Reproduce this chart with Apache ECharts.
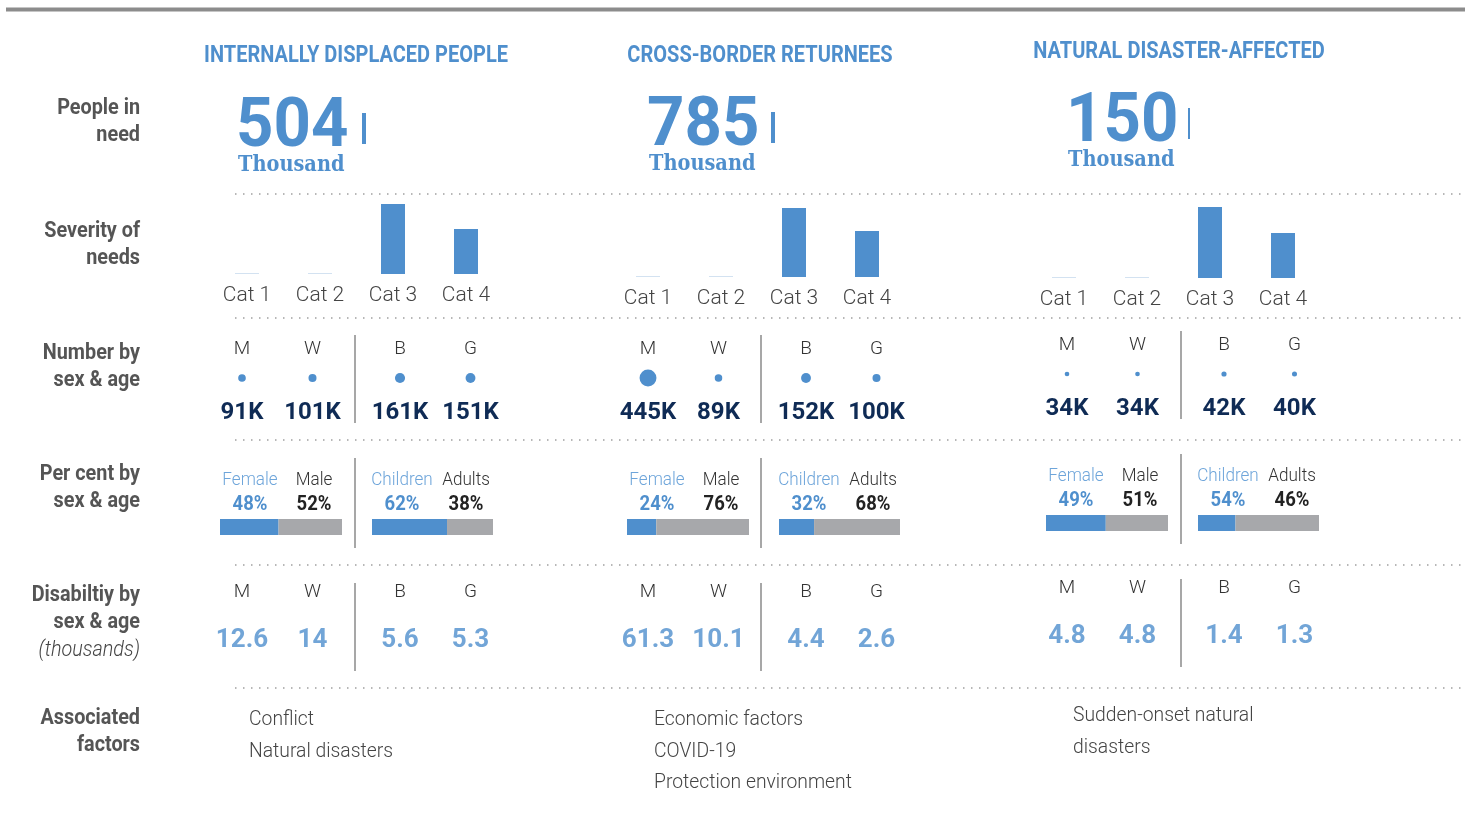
<!DOCTYPE html>
<html>
<head>
<meta charset="utf-8">
<title>People in need by population group</title>
<script src="https://cdn.jsdelivr.net/npm/echarts@6/dist/echarts.min.js"></script>
<style>
  html, body { margin: 0; padding: 0; background: #fff; }
  #chart { width: 1465px; height: 814px; }
</style>
</head>
<body>
<div id="chart"></div>
<script>
// ---- data ----
const groups = ['INTERNALLY DISPLACED PEOPLE', 'CROSS-BORDER RETURNEES', 'NATURAL DISASTER-AFFECTED']
const peopleInNeed = [504, 785, 150]
const pinUnit = 'Thousand'

const sevCats = ['Cat 1', 'Cat 2', 'Cat 3', 'Cat 4']
// bar heights as drawn (relative units)
const sevIDP = [1, 1, 70, 45]
const sevCBR = [1, 1, 69, 46]
const sevNDA = [1, 1, 71, 45]

const sexCats = ['M', 'W']
const ageCats = ['B', 'G']
// thousands
const numSexIDP = [91, 101], numAgeIDP = [161, 151]
const numSexCBR = [445, 89], numAgeCBR = [152, 100]
const numSexNDA = [34, 34], numAgeNDA = [42, 40]

const pctFemale = [48, 24, 49]
const pctMale = [52, 76, 51]
const pctChildren = [62, 32, 54]
const pctAdults = [38, 68, 46]
// share filled in blue on the bars, as drawn
const barFemale = [48, 24, 49]
const barChildren = [62, 29, 31]

const disSexIDP = [12.6, 14], disAgeIDP = [5.6, 5.3]
const disSexCBR = [61.3, 10.1], disAgeCBR = [4.4, 2.6]
const disSexNDA = [4.8, 4.8], disAgeNDA = [1.4, 1.3]

const factorsIDP = ['Conflict', 'Natural disasters']
const factorsCBR = ['Economic factors', 'COVID-19', 'Protection environment']
const factorsNDA = ['Sudden-onset natural', 'disasters']

const rowLabels = [
  { lines: ['People in', 'need'], y: 108 },
  { lines: ['Severity of', 'needs'], y: 231 },
  { lines: ['Number by', 'sex & age'], y: 353 },
  { lines: ['Per cent by', 'sex & age'], y: 474 },
  { lines: ['Disabiltiy by', 'sex & age', '(thousands)'], y: 595 },
  { lines: ['Associated', 'factors'], y: 718 }
]

const sev = [sevIDP, sevCBR, sevNDA]
const numSex = [numSexIDP, numSexCBR, numSexNDA]
const numAge = [numAgeIDP, numAgeCBR, numAgeNDA]
const disSex = [disSexIDP, disSexCBR, disSexNDA]
const disAge = [disAgeIDP, disAgeCBR, disAgeNDA]
const factors = [factorsIDP, factorsCBR, factorsNDA]

// ---- layout ----
const colTitleX = [356, 760, 1179], colTitleY = [56, 56, 52]
const colBigX = [236, 647, 1066], colBigY = [129, 128, 124]
const colTickX = [362, 771, 1188], colTickW = [4, 4, 2]
const colCatX = [247, 648, 1064], colSevBase = [274, 277, 278]
const colSexX = [242, 648, 1067], colAgeX = [400, 806, 1224]
const colDivX = [355, 761, 1181]
const colDy = [0, 0, -4]
const colPctSexX = [220, 627, 1046], colPctAgeX = [372, 779, 1198]
const colFactorX = [249, 654, 1073], colFactorY = [720, 720, 716]

const BLUE = '#4f8fcd'
const LIGHT_BLUE = '#6ea5da'
const NAVY = '#0f2b55'
const GREY_BAR = '#a7a8ab'
const FONT = 'Roboto'

function txt(text, x, y, font, fill, align, sx) {
  return {
    type: 'text', x: x, y: y, scaleX: sx || 1, silent: true,
    style: { text: text, font: font, fill: fill, textAlign: align || 'center', textVerticalAlign: 'middle', textBaseline: 'middle' }
  }
}
function line(x1, y1, x2, y2, stroke, w, dash) {
  return {
    type: 'line', silent: true,
    shape: { x1: x1, y1: y1, x2: x2, y2: y2 },
    style: { stroke: stroke, lineWidth: w, lineDash: dash || null }
  }
}

const grid = [], xAxis = [], yAxis = [], series = [], graphic = []

// top rule and dotted separators
graphic.push(line(6, 9.5, 1465, 9.5, '#8c8c8c', 4))
;[194, 318, 440, 565, 688].forEach(y => graphic.push(line(235, y, 1465, y, '#a0a0a0', 1.5, [1.5, 6.5])))

// row labels
rowLabels.forEach(r => {
  r.lines.forEach((t, i) => {
    const italic = t.startsWith('(')
    graphic.push(txt(t, 140, r.y + i * 27.5,
      italic ? 'italic 300 22px ' + FONT : 'bold 22px ' + FONT,
      italic ? '#444' : '#555', 'right', 0.9))
  })
})

function addGrid(g, xa, ya) {
  const i = grid.length
  grid.push(g)
  xAxis.push(Object.assign({ gridIndex: i }, xa))
  yAxis.push(Object.assign({ gridIndex: i }, ya))
  return i
}

for (let c = 0; c < 3; c++) {
  const dy = colDy[c]

  // header
  graphic.push(txt(groups[c], colTitleX[c], colTitleY[c], 'bold 23px ' + FONT, BLUE, 'center', 0.87))
  graphic.push(txt(String(peopleInNeed[c]), colBigX[c], colBigY[c], 'bold 68px ' + FONT, BLUE, 'left', 0.96))
  graphic.push({
    type: 'rect', silent: true,
    shape: { x: colTickX[c], y: colBigY[c] - 16, width: colTickW[c], height: 31 },
    style: { fill: BLUE }
  })
  graphic.push(txt(pinUnit, colBigX[c] + 2, colBigY[c] + 36, 'bold 22px "DejaVu Serif"', BLUE, 'left', 0.88))

  // severity of needs
  let gi = addGrid(
    { left: colCatX[c] - 36.5, top: colSevBase[c] - 71, width: 292, height: 71 },
    { type: 'category', data: sevCats, axisLine: { show: false }, axisTick: { show: false },
      axisLabel: { margin: 11, fontSize: 21, fontWeight: 300, fontFamily: FONT, color: '#444' } },
    { type: 'value', min: 0, max: 71, show: false }
  )
  series.push({
    type: 'bar', xAxisIndex: gi, yAxisIndex: gi, barWidth: 24, silent: true,
    data: sev[c].map(v => ({ value: v, itemStyle: { color: v <= 1 ? '#d3e2f1' : BLUE } }))
  })

  // number by sex & age
  ;[[sexCats, numSex[c], colSexX[c]], [ageCats, numAge[c], colAgeX[c]]].forEach(([cats, vals, x0]) => {
    const g = addGrid(
      { left: x0 - 35.25, top: 363 + dy, width: 141, height: 30 },
      { type: 'category', data: cats, position: 'top', axisLine: { show: false }, axisTick: { show: false },
        axisLabel: { margin: 4, fontSize: 19, fontWeight: 300, fontFamily: FONT, color: '#333' } },
      { type: 'value', min: 0, max: 1, show: false }
    )
    series.push({
      type: 'scatter', xAxisIndex: g, yAxisIndex: g, silent: true,
      data: vals.map((v, i) => [cats[i], 0.5, v]),
      symbolSize: d => 0.8 * Math.sqrt(d[2]),
      itemStyle: { color: BLUE, opacity: 1 },
      label: {
        show: true, position: 'inside', offset: [0, 35],
        formatter: p => p.value[2] + 'K',
        fontFamily: FONT, fontWeight: 'bold', fontSize: 24, color: NAVY
      }
    })
  })
  graphic.push(line(colDivX[c], 335 + dy, colDivX[c], 423 + dy, '#8a8a8a', 1.5))

  // per cent by sex & age
  ;[
    [colPctSexX[c], 122, barFemale[c], ['Female', 'Male'], [pctFemale[c], pctMale[c]]],
    [colPctAgeX[c], 121, barChildren[c], ['Children', 'Adults'], [pctChildren[c], pctAdults[c]]]
  ].forEach(([x0, w, share, names, pcts]) => {
    const g = addGrid(
      { left: x0, top: 519 + dy, width: w, height: 16 },
      { type: 'value', min: 0, max: 100, show: false },
      { type: 'category', data: [''], show: false }
    )
    series.push({ type: 'bar', xAxisIndex: g, yAxisIndex: g, stack: 'p' + g, barWidth: 16, silent: true,
      data: [share], itemStyle: { color: BLUE } })
    series.push({ type: 'bar', xAxisIndex: g, yAxisIndex: g, stack: 'p' + g, barWidth: 16, silent: true,
      data: [100 - share], itemStyle: { color: GREY_BAR } })
    const cx = [x0 + 30, x0 + 94]
    graphic.push(txt(names[0], cx[0], 480 + dy, '300 19px ' + FONT, LIGHT_BLUE, 'center', 0.9))
    graphic.push(txt(names[1], cx[1], 480 + dy, '300 19px ' + FONT, '#333', 'center', 0.9))
    graphic.push(txt(pcts[0] + '%', cx[0], 505 + dy, 'bold 21px ' + FONT, BLUE, 'center', 0.88))
    graphic.push(txt(pcts[1] + '%', cx[1], 505 + dy, 'bold 21px ' + FONT, '#222', 'center', 0.88))
  })
  graphic.push(line(colDivX[c], 458 + dy, colDivX[c], 548 + dy, '#8a8a8a', 1.5))

  // disability by sex & age
  ;[[sexCats, disSex[c], colSexX[c]], [ageCats, disAge[c], colAgeX[c]]].forEach(([cats, vals, x0]) => {
    const g = addGrid(
      { left: x0 - 35.25, top: 617 + dy, width: 141, height: 40 },
      { type: 'category', data: cats, position: 'top', axisLine: { show: false }, axisTick: { show: false },
        axisLabel: { margin: 15, fontSize: 19, fontWeight: 300, fontFamily: FONT, color: '#333' } },
      { type: 'value', min: 0, max: 1, show: false }
    )
    series.push({
      type: 'scatter', xAxisIndex: g, yAxisIndex: g, silent: true,
      data: vals.map((v, i) => [cats[i], 0.5, v]),
      symbolSize: 1,
      itemStyle: { color: 'transparent' },
      label: {
        show: true, position: 'inside', offset: [0, 3],
        formatter: p => String(p.value[2]),
        fontFamily: FONT, fontWeight: 'bold', fontSize: 26, color: BLUE
      }
    })
  })
  graphic.push(line(colDivX[c], 583 + dy, colDivX[c], 671 + dy, '#8a8a8a', 1.5))

  // associated factors
  factors[c].forEach((t, i) => {
    graphic.push(txt(t, colFactorX[c], colFactorY[c] + i * 31.5, '300 21px ' + FONT, '#444', 'left', 0.92))
  })
}

const chart = echarts.init(document.getElementById('chart'), null, { renderer: 'canvas' })
chart.setOption({
  animation: false,
  backgroundColor: '#fff',
  grid: grid,
  xAxis: xAxis,
  yAxis: yAxis,
  series: series,
  graphic: { elements: graphic }
})
window.addEventListener('resize', () => chart.resize())
</script>
</body>
</html>
